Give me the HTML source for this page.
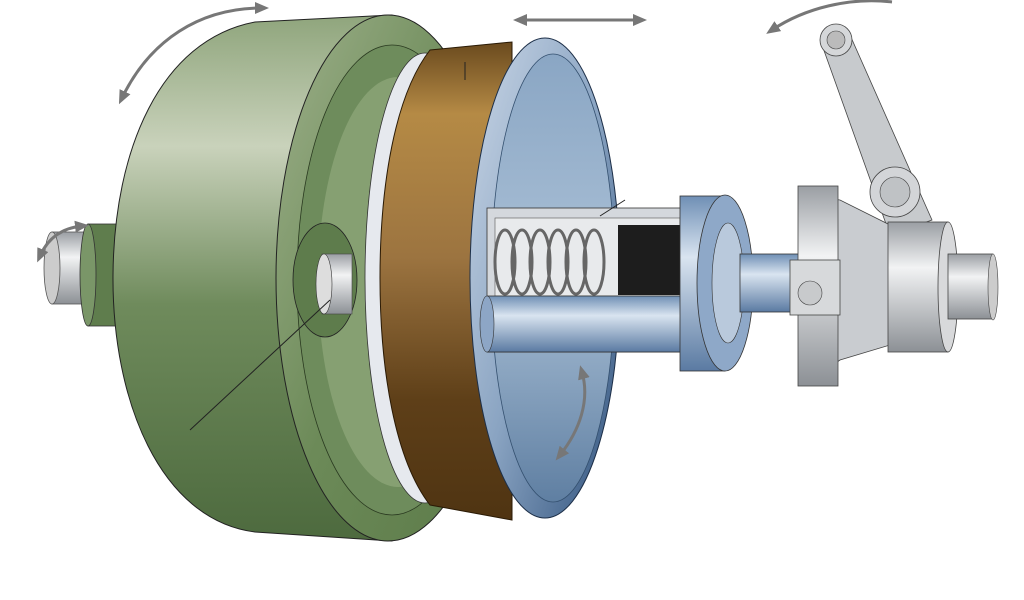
<!DOCTYPE html>
<html><head><meta charset="utf-8"><style>html,body{margin:0;padding:0;background:#fff}svg{display:block}</style></head>
<body>
<svg width="1024" height="600" viewBox="0 0 1024 600" xmlns="http://www.w3.org/2000/svg">
<defs>
<linearGradient id="gr" x1="0" y1="0" x2="0" y2="1">
<stop offset="0" stop-color="#8fa57c"/><stop offset="0.25" stop-color="#c9d2bb"/><stop offset="0.55" stop-color="#6f8b5c"/><stop offset="1" stop-color="#4d6a3e"/></linearGradient>
<linearGradient id="gf" x1="0" y1="0" x2="1" y2="1">
<stop offset="0" stop-color="#9db08a"/><stop offset="0.5" stop-color="#6c8a58"/><stop offset="1" stop-color="#5b7a48"/></linearGradient>
<linearGradient id="br" x1="0" y1="0" x2="0" y2="1">
<stop offset="0" stop-color="#6a4a1e"/><stop offset="0.15" stop-color="#b58a45"/><stop offset="0.45" stop-color="#9c7440"/><stop offset="0.75" stop-color="#5e3f18"/><stop offset="1" stop-color="#4f3412"/></linearGradient>
<linearGradient id="bl" x1="0" y1="0" x2="1" y2="1">
<stop offset="0" stop-color="#c9d6e6"/><stop offset="0.5" stop-color="#8aa4c2"/><stop offset="1" stop-color="#2d4f7a"/></linearGradient>
<linearGradient id="bli" x1="0" y1="0" x2="0" y2="1">
<stop offset="0" stop-color="#8aa6c4"/><stop offset="0.5" stop-color="#aac0d6"/><stop offset="1" stop-color="#5f7fa2"/></linearGradient>
<linearGradient id="gy" x1="0" y1="0" x2="0" y2="1">
<stop offset="0" stop-color="#9a9ea3"/><stop offset="0.35" stop-color="#f2f3f4"/><stop offset="1" stop-color="#8c9095"/></linearGradient>
<linearGradient id="bs" x1="0" y1="0" x2="0" y2="1">
<stop offset="0" stop-color="#6f8fb5"/><stop offset="0.35" stop-color="#d9e4f0"/><stop offset="1" stop-color="#5a7aa2"/></linearGradient>
<marker id="ah" markerUnits="userSpaceOnUse" markerWidth="14" markerHeight="12" refX="7" refY="6" orient="auto-start-reverse"><path d="M0,0 L14,6 L0,12 z" fill="#777"/></marker>
</defs>
<!-- left shaft -->
<rect x="52" y="232" width="50" height="72" fill="url(#gy)" stroke="#555" stroke-width="0.8"/>
<ellipse cx="52" cy="268" rx="8" ry="36" fill="#ccc" stroke="#555" stroke-width="0.8"/>
<rect x="88" y="224" width="30" height="102" fill="#5f7d4d" stroke="#333" stroke-width="0.8"/>
<ellipse cx="88" cy="275" rx="8" ry="51" fill="#7a9668" stroke="#333" stroke-width="0.8"/>
<!-- flywheel body -->
<path d="M255,22 L392,15 L392,541 L255,532 C160,520 112,400 113,275 C114,150 160,40 255,22 Z" fill="url(#gr)" stroke="#222" stroke-width="1"/>
<ellipse cx="388" cy="278" rx="112" ry="263" fill="url(#gf)" stroke="#222" stroke-width="1"/>
<ellipse cx="392" cy="280" rx="95" ry="235" fill="#6e8c5c" stroke="#2a3a20" stroke-width="0.8"/>
<ellipse cx="398" cy="282" rx="80" ry="205" fill="#86a072"/>
<!-- hub -->
<ellipse cx="325" cy="280" rx="32" ry="57" fill="#5e7c4c" stroke="#222" stroke-width="0.8"/>
<rect x="322" y="254" width="30" height="60" fill="url(#gy)" stroke="#444" stroke-width="0.6"/>
<ellipse cx="324" cy="284" rx="8" ry="30" fill="#ddd" stroke="#333" stroke-width="0.6"/>
<!-- white rim -->
<ellipse cx="425" cy="278" rx="60" ry="225" fill="#e6e9ee" stroke="#333" stroke-width="0.8"/>
<!-- brown disc -->
<path d="M430,50 L512,42 L512,520 L430,505 C395,460 380,370 380,278 C380,185 395,95 430,50 Z" fill="url(#br)" stroke="#2a1a05" stroke-width="1"/>
<line x1="465" y1="62" x2="465" y2="80" stroke="#222" stroke-width="1"/>
<!-- blue pressure plate -->
<ellipse cx="545" cy="278" rx="75" ry="240" fill="url(#bl)" stroke="#1d2f48" stroke-width="1"/>
<ellipse cx="553" cy="278" rx="62" ry="224" fill="url(#bli)" stroke="#34506f" stroke-width="0.8"/>
<!-- cylinder cutaway -->
<rect x="487" y="208" width="200" height="144" fill="#d4d8dd" stroke="#333" stroke-width="0.8"/>
<rect x="495" y="218" width="185" height="78" fill="#e8eaec" stroke="#555" stroke-width="0.6"/>
<rect x="618" y="225" width="62" height="70" fill="#1d1d1d"/>
<g fill="none" stroke="#666" stroke-width="3">
<ellipse cx="505" cy="262" rx="10" ry="32"/><ellipse cx="522" cy="262" rx="10" ry="32"/><ellipse cx="540" cy="262" rx="10" ry="32"/><ellipse cx="558" cy="262" rx="10" ry="32"/><ellipse cx="576" cy="262" rx="10" ry="32"/><ellipse cx="594" cy="262" rx="10" ry="32"/></g>
<rect x="487" y="296" width="200" height="56" fill="url(#bs)" stroke="#333" stroke-width="0.8"/>
<ellipse cx="487" cy="324" rx="7" ry="28" fill="#8da6c6" stroke="#333" stroke-width="0.6"/>
<line x1="600" y1="216" x2="625" y2="200" stroke="#222" stroke-width="1"/>
<!-- bearing -->
<rect x="680" y="196" width="45" height="175" fill="url(#bs)" stroke="#333" stroke-width="0.8"/>
<ellipse cx="725" cy="283" rx="28" ry="88" fill="#8ea8c8" stroke="#333" stroke-width="0.8"/>
<ellipse cx="728" cy="283" rx="16" ry="60" fill="#b9c9dc" stroke="#333" stroke-width="0.6"/>
<rect x="740" y="254" width="60" height="58" fill="url(#bs)" stroke="#333" stroke-width="0.8"/>
<!-- fork and lever -->
<path d="M822,45 L850,35 L932,220 L890,235 Z" fill="#c7cacd" stroke="#444" stroke-width="0.8"/>
<circle cx="836" cy="40" r="16" fill="#d5d7d9" stroke="#444" stroke-width="0.8"/>
<circle cx="836" cy="40" r="9" fill="#bbb" stroke="#444" stroke-width="0.6"/>
<circle cx="895" cy="192" r="25" fill="#d3d5d8" stroke="#444" stroke-width="0.8"/>
<circle cx="895" cy="192" r="15" fill="#bfc2c5" stroke="#444" stroke-width="0.6"/>
<path d="M805,195 L840,200 L890,225 L890,345 L840,360 L805,385 Z" fill="#c9ccd0" stroke="#444" stroke-width="0.8"/>
<rect x="798" y="186" width="40" height="200" fill="url(#gy)" stroke="#444" stroke-width="0.8"/>
<rect x="790" y="260" width="50" height="55" fill="#d7d9db" stroke="#444" stroke-width="0.8"/>
<circle cx="810" cy="293" r="12" fill="#c8cacc" stroke="#444" stroke-width="0.6"/>
<!-- right shaft -->
<rect x="888" y="222" width="60" height="130" fill="url(#gy)" stroke="#444" stroke-width="0.8"/>
<ellipse cx="948" cy="287" rx="10" ry="65" fill="#d8d9db" stroke="#444" stroke-width="0.8"/>
<rect x="948" y="254" width="45" height="65" fill="url(#gy)" stroke="#444" stroke-width="0.8"/>
<ellipse cx="993" cy="287" rx="5" ry="33" fill="#ccc" stroke="#444" stroke-width="0.6"/>
<!-- leader line -->
<line x1="190" y1="430" x2="330" y2="300" stroke="#222" stroke-width="1"/>
<!-- arrows -->
<g fill="none" stroke="#777" stroke-width="3">
<path d="M122,98 C150,40 200,8 262,8" marker-end="url(#ah)" marker-start="url(#ah)"/>
<path d="M40,256 C48,238 62,228 82,226" marker-end="url(#ah)" marker-start="url(#ah)"/>
<path d="M520,20 L640,20" marker-end="url(#ah)" marker-start="url(#ah)"/>
<path d="M772,30 C805,8 850,-3 892,2" marker-start="url(#ah)"/>
<path d="M560,455 C580,430 590,400 582,372" marker-end="url(#ah)" marker-start="url(#ah)"/>
</g>
</svg>
</body></html>
